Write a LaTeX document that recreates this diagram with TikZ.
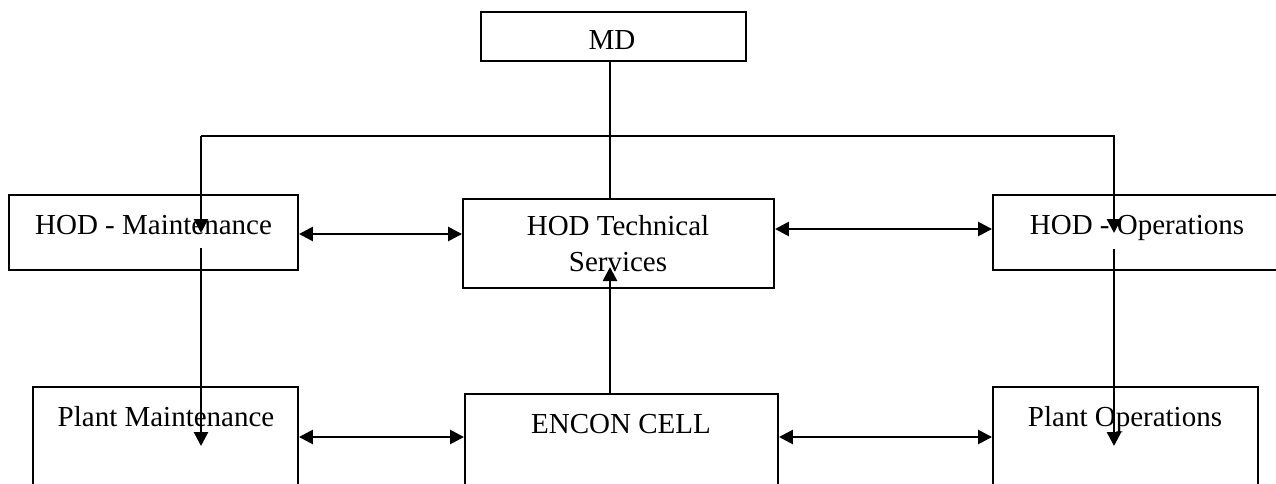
\documentclass[tikz,border=0pt]{standalone}
\usepackage{fontspec}
\setmainfont{Liberation Serif}
\usetikzlibrary{arrows.meta}
\begin{document}
\begin{tikzpicture}[x=1pt,y=-1pt,
  box/.style={draw=black,line width=1.9pt,rectangle,inner sep=0pt,fill=none},
  lbl/.style={inner sep=0pt,anchor=base,font=\fontsize{29}{36}\selectfont},
  conn/.style={line width=2.6pt},
  arr/.style={line width=2.6pt,-{Triangle[length=14pt,width=14pt]}},
  dbl/.style={line width=2.6pt,{Triangle[length=14pt,width=14pt]}-{Triangle[length=14pt,width=14pt]}}]
\useasboundingbox (0,0) rectangle (1276,484);
\clip (0,0) rectangle (1276,484);
% boxes
\node[box,minimum width=265pt,minimum height=49pt] (md) at (613.5,36.5) {};
\node[box,minimum width=289pt,minimum height=75pt] (hm) at (153.5,232.5) {};
\node[box,minimum width=311pt,minimum height=89pt] (ht) at (618.5,243.5) {};
\node[box,minimum width=307pt,minimum height=75pt] (ho) at (1146.5,232.5) {};
\node[box,minimum width=265pt,minimum height=123pt] (pm) at (165.5,448.5) {};
\node[box,minimum width=313pt,minimum height=116pt] (ec) at (621.5,452) {};
\node[box,minimum width=265pt,minimum height=123pt] (po) at (1125.5,448.5) {};
% labels
\node[lbl] (mdt) at (612,50) {MD};
\node[lbl] (hmt) at (153.5,234) {HOD - Maintenance};
\node[lbl] (htt1) at (618,235) {HOD Technical};
\node[lbl] (htt2) at (618,271) {Services};
\node[lbl] (hot) at (1137,234) {HOD - Operations};
\node[lbl] (pmt) at (166,426) {Plant Maintenance};
\node[lbl] (ect) at (621,433) {ENCON CELL};
\node[lbl] (pot) at (1125,426) {Plant Operations};
% coordinates
\coordinate (j) at (610,136);
\coordinate (tl) at (201,136);
\coordinate (tr) at (1114,136);
\coordinate (hmtip) at (201,233);
\coordinate (hotip) at (1114,233);
\coordinate (hmtail) at (201,248);
\coordinate (hotail) at (1114,249);
\coordinate (pmtip) at (201,446);
\coordinate (potip) at (1114,446);
\coordinate (httip) at (610,267);
\coordinate (ya) at (0,437);
\coordinate (yb) at (0,234);
\coordinate (yc) at (0,229);
% connectors
\draw[conn] (md.south -| j) -- (ht.north -| j);
\draw[arr] (tl) -- (tr) -- (hotip);
\draw[arr] (tl) -- (hmtip);
\draw[arr] (hmtail) -- (pmtip);
\draw[arr] (hotail) -- (potip);
\draw[dbl] (hm.east |- yb) -- (ht.west |- yb);
\draw[dbl] (ht.east |- yc) -- (ho.west |- yc);
\draw[dbl] (pm.east |- ya) -- (ec.west |- ya);
\draw[dbl] (ec.east |- ya) -- (po.west |- ya);
\draw[arr] (ec.north -| j) -- (httip);
\end{tikzpicture}
\end{document}
